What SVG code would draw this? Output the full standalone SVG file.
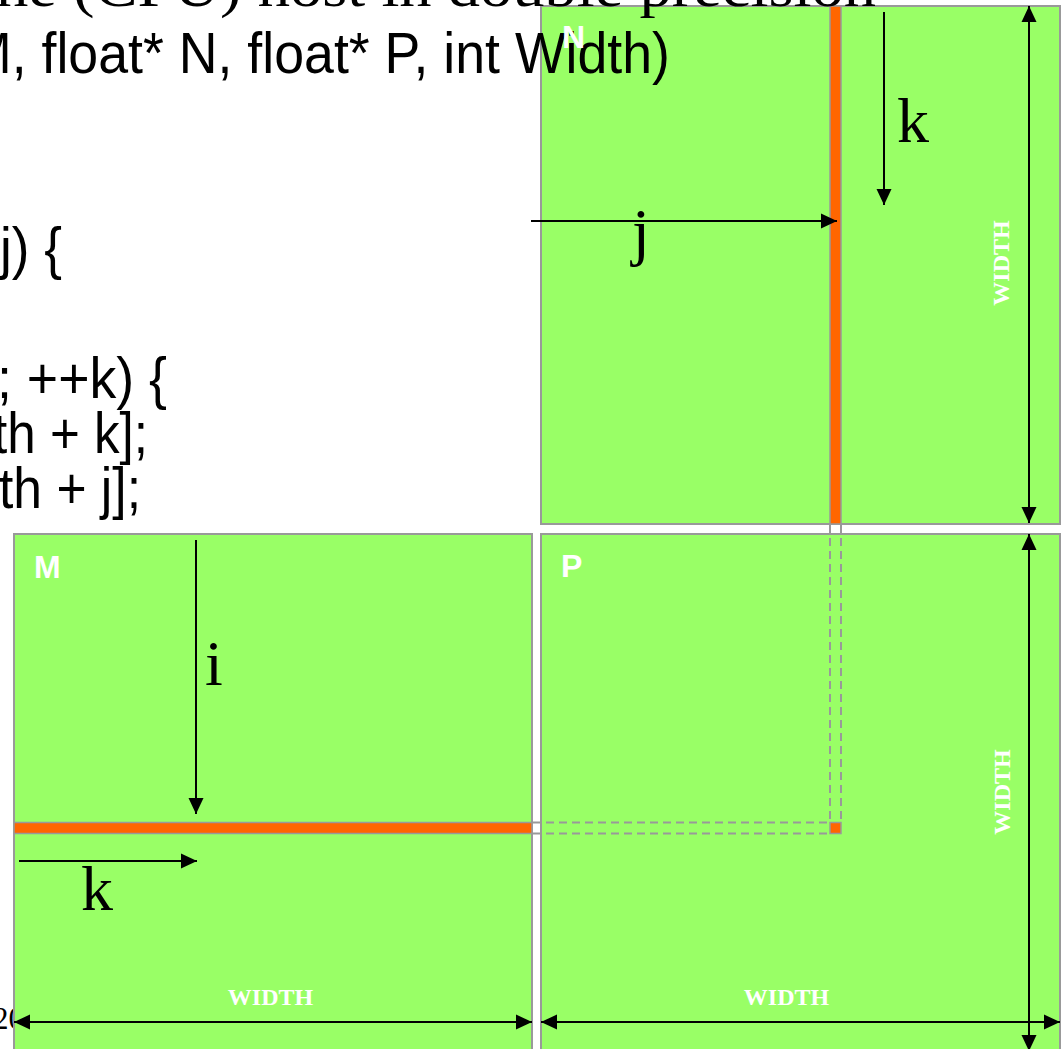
<svg xmlns="http://www.w3.org/2000/svg" width="1063" height="1049" viewBox="0 0 1063 1049">
<style>
.mat{fill:#99FF66;stroke:#999999;stroke-width:2}
.hl{fill:#FF6600;stroke:#999999;stroke-width:1.5}
.dash{fill:none;stroke:#999999;stroke-width:2;stroke-dasharray:8 5}
.arr{fill:none;stroke:#000;stroke-width:2}
.code{font-family:"Liberation Sans",Arial,sans-serif;font-size:57px;fill:#000}
.title{font-family:"Liberation Serif","Times New Roman",serif;font-size:56px;fill:#000}
.idx{font-family:"Liberation Serif","Times New Roman",serif;font-size:64px;fill:#000}
.name{font-family:"Liberation Sans",Arial,sans-serif;font-size:32px;font-weight:bold;fill:#fff}
.dim{font-family:"Liberation Serif","Times New Roman",serif;font-size:24px;font-weight:bold;fill:#fff;text-anchor:middle}
</style>
<defs>
<marker id="ah" markerUnits="userSpaceOnUse" markerWidth="16" markerHeight="16" viewBox="0 0 16 16" refX="16" refY="8" orient="auto-start-reverse">
<path d="M0,0.5 L16,8 L0,15.5 z" fill="#000"/>
</marker>
</defs>

<text class="title" x="-7" y="1029" style="font-size:31px">20</text>

<g id="matrix-N">
<rect class="mat" x="541" y="6" width="519" height="518"/>
<rect class="hl" x="830" y="6" width="11" height="518"/>
</g>
<g id="matrix-M">
<rect class="mat" x="14" y="534" width="518" height="530"/>
<rect class="hl" x="14" y="822.5" width="518" height="11"/>
</g>
<g id="matrix-P">
<rect class="mat" x="541" y="534" width="519" height="530"/>
<rect class="hl" x="830" y="822.5" width="11" height="11"/>
</g>

<g id="code">
<text class="title" x="-4" y="6" textLength="880" lengthAdjust="spacingAndGlyphs">he (CPU) host in double precision</text>
<text class="code" x="-33" y="73" textLength="703" lengthAdjust="spacingAndGlyphs">M, float* N, float* P, int Width)</text>
<text class="code" x="0" y="268" textLength="62" lengthAdjust="spacingAndGlyphs">j) {</text>
<text class="code" x="-3" y="398" textLength="170" lengthAdjust="spacingAndGlyphs">; ++k) {</text>
<text class="code" x="-7" y="453" textLength="155" lengthAdjust="spacingAndGlyphs">th + k];</text>
<text class="code" x="-1" y="508" textLength="142" lengthAdjust="spacingAndGlyphs">th + j];</text>
</g>

<g id="labels">
<text class="name" x="562" y="48">N</text>
<text class="name" x="34" y="578">M</text>
<text class="name" x="561" y="577">P</text>
<text class="idx" x="632" y="253">j</text>
<text class="idx" x="897" y="142">k</text>
<text class="idx" x="205" y="685">i</text>
<text class="idx" x="81" y="910">k</text>
<text class="dim" x="270.5" y="1005">WIDTH</text>
<text class="dim" x="786.5" y="1005">WIDTH</text>
<text class="dim" transform="translate(1009,263) rotate(-90)">WIDTH</text>
<text class="dim" transform="translate(1010,792) rotate(-90)">WIDTH</text>
</g>

<g id="connectors">
<path class="dash" d="M830,525 V822 M841,525 V822 M533,822.5 H830 M533,833.5 H830"/>
<line class="arr" x1="531" y1="221" x2="837" y2="221" marker-end="url(#ah)"/>
<line class="arr" x1="884" y1="12" x2="884" y2="205" marker-end="url(#ah)"/>
<line class="arr" x1="196" y1="540" x2="196" y2="814" marker-end="url(#ah)"/>
<line class="arr" x1="19" y1="861" x2="197" y2="861" marker-end="url(#ah)"/>
<line class="arr" x1="1029" y1="6" x2="1029" y2="523" marker-start="url(#ah)" marker-end="url(#ah)"/>
<line class="arr" x1="1029" y1="534" x2="1029" y2="1051" marker-start="url(#ah)" marker-end="url(#ah)"/>
<line class="arr" x1="14" y1="1022" x2="532" y2="1022" marker-start="url(#ah)" marker-end="url(#ah)"/>
<line class="arr" x1="541" y1="1022" x2="1060" y2="1022" marker-start="url(#ah)" marker-end="url(#ah)"/>
</g>
</svg>
